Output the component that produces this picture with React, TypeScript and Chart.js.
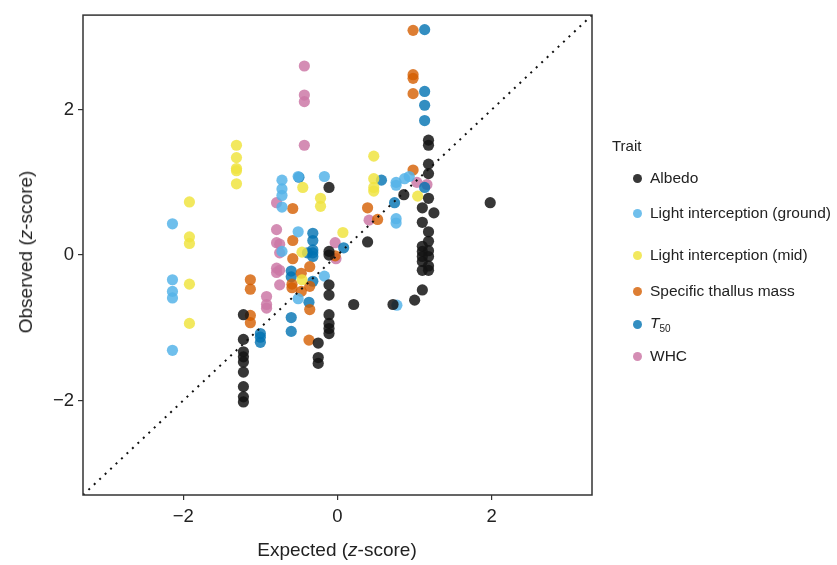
import { useEffect, useRef } from 'react';
import { Chart, registerables } from 'chart.js';
Chart.register(...registerables);

const traitNames = ['Albedo', 'Light interception (ground)', 'Light interception (mid)', 'Specific thallus mass', 'T50', 'WHC'];
const traitColors = ['rgba(20,20,20,0.85)', 'rgba(86,180,233,0.85)', 'rgba(240,228,66,0.85)', 'rgba(213,94,0,0.8)', 'rgba(0,114,178,0.8)', 'rgba(204,121,167,0.85)'];

const albedoX = [-1.22, -1.22, -1.22, -1.22, -1.22, -1.22, -1.22, -1.22, -1.22, -0.25, -0.25, -0.25, -0.11, -0.11, -0.11, -0.11, -0.11, -0.11, -0.11, -0.11, -0.11, 0.21, 0.39, 0.72, 0.86, 1.0, 1.1, 1.1, 1.1, 1.1, 1.1, 1.1, 1.1, 1.1, 1.18, 1.18, 1.18, 1.18, 1.18, 1.18, 1.18, 1.18, 1.18, 1.18, 1.18, 1.25, 1.98];
const albedoY = [-0.82, -1.16, -1.33, -1.4, -1.47, -1.61, -1.81, -1.95, -2.02, -1.21, -1.41, -1.49, 0.93, 0.05, 0.0, -0.41, -0.55, -0.82, -0.94, -1.01, -1.08, -0.68, 0.18, -0.68, 0.83, -0.62, 0.65, 0.45, 0.12, 0.05, -0.02, -0.09, -0.21, -0.48, 1.58, 1.51, 1.25, 1.12, 0.78, 0.32, 0.19, 0.06, -0.02, -0.15, -0.21, 0.58, 0.72];

const groundX = [-2.14, -2.14, -2.14, -2.14, -2.14, -0.72, -0.72, -0.72, -0.72, -0.51, -0.17, -0.51, -0.72, -0.51, -0.17, 0.76, 0.76, 0.87, 0.93, 0.76, 0.76, 0.77];
const groundY = [0.43, -0.34, -0.5, -0.59, -1.31, 1.03, 0.91, 0.82, 0.66, 1.08, 1.08, 0.32, 0.05, -0.6, -0.29, 1.0, 0.96, 1.05, 1.08, 0.5, 0.44, -0.69];

const midX = [-1.31, -1.31, -1.31, -1.31, -1.31, -1.92, -1.92, -1.92, -1.92, -1.92, -0.45, -0.22, -0.22, -0.46, -0.46, 0.07, 0.47, 0.47, 0.47, 0.47, 1.04];
const midY = [1.51, 1.34, 1.19, 1.16, 0.98, 0.73, 0.25, 0.16, -0.4, -0.94, 0.93, 0.78, 0.67, 0.04, -0.34, 0.31, 1.36, 1.05, 0.93, 0.88, 0.81];

const stmX = [0.98, 0.98, 0.98, 0.98, 0.98, 0.39, 0.52, -0.58, -0.58, -0.58, -0.03, -0.36, -1.13, -1.13, -0.47, -0.59, -0.59, -0.36, -0.47, -0.36, -1.13, -1.13, -0.37];
const stmY = [3.09, 2.48, 2.43, 2.22, 1.17, 0.65, 0.49, 0.64, 0.2, -0.05, -0.01, -0.16, -0.34, -0.47, -0.25, -0.4, -0.45, -0.43, -0.5, -0.75, -0.83, -0.93, -1.17];

const t50X = [1.13, 1.13, 1.13, 1.13, 1.13, 0.57, 0.74, 0.08, -0.32, -0.32, -0.32, -0.32, -0.39, -0.32, -0.6, -0.6, -0.32, -0.37, -0.6, -0.6, -1.0, -1.0, -1.0, -0.5];
const t50Y = [3.1, 2.25, 2.06, 1.85, 0.93, 1.03, 0.72, 0.1, 0.3, 0.2, 0.07, 0.03, 0.03, -0.02, -0.22, -0.3, -0.36, -0.65, -0.86, -1.05, -1.08, -1.13, -1.2, 1.07];

const whcX = [-0.43, -0.43, -0.43, -0.43, -0.79, -0.79, -0.79, -0.75, -0.75, -0.03, -0.02, -0.79, -0.75, -0.79, -0.75, -0.92, -0.92, -0.92, 0.41, 1.03, 1.16];
const whcY = [2.6, 2.2, 2.11, 1.51, 0.72, 0.35, 0.17, 0.15, 0.03, 0.17, -0.05, -0.18, -0.21, -0.24, -0.41, -0.57, -0.68, -0.73, 0.48, 1.0, 0.97];

const seriesX = [albedoX, groundX, midX, stmX, t50X, whcX];
const seriesY = [albedoY, groundY, midY, stmY, t50Y, whcY];

const axisRange = [-3.3, 3.3];
const tickValues = [-2, 0, 2];
const refLine = [-3.3, 3.3];

const FONT = '"Liberation Sans", Arial, sans-serif';

export default function App() {
  const ref = useRef<HTMLCanvasElement | null>(null);
  useEffect(() => {
    document.body.style.margin = '0';
    const framePlugin = {
      id: 'frame',
      afterDatasetsDraw(chart: any) {
        const { ctx, chartArea: a } = chart;
        ctx.save();
        ctx.strokeStyle = '#333';
        ctx.lineWidth = 1.5;
        ctx.strokeRect(a.left, a.top, a.right - a.left, a.bottom - a.top);
        ctx.restore();
      },
    };
    const datasets: any[] = [
      {
        type: 'line',
        label: 'identity',
        data: refLine.map((v) => ({ x: v, y: v })),
        borderColor: '#111',
        borderWidth: 2,
        borderDash: [2, 5.5],
        pointRadius: 0,
        fill: false,
        order: 0,
      },
    ];
    seriesX.forEach((xs, i) => {
      datasets.push({
        type: 'scatter',
        label: traitNames[i],
        data: xs.map((x, j) => ({ x, y: seriesY[i][j] })),
        backgroundColor: traitColors[i],
        borderWidth: 0,
        pointRadius: 5.6,
        order: 1 + i,
      });
    });
    const scaleCommon = (isX: boolean) => ({
      type: 'linear',
      min: axisRange[0],
      max: axisRange[1],
      afterBuildTicks: (axis: any) => {
        axis.ticks = tickValues.map((v) => ({ value: v }));
      },
      afterFit: (s: any) => {
        if (isX) s.height = 70;
        else s.width = 83;
      },
      border: { display: false },
      grid: { display: true, drawOnChartArea: false, drawTicks: true, tickLength: 5, color: '#333', lineWidth: 1.2 },
      ticks: {
        color: '#222',
        padding: isX ? 6 : 4,
        font: { size: 18.5, family: FONT },
        callback: (v: number) => (v < 0 ? '\u2212' + Math.abs(v) : String(v)),
      },
    });
    const chart = new Chart(ref.current as HTMLCanvasElement, {
      type: 'scatter',
      data: { datasets },
      options: {
        animation: false,
        responsive: true,
        maintainAspectRatio: false,
        layout: { padding: { left: 0, right: 245, top: 10, bottom: 0 } },
        plugins: { legend: { display: false }, tooltip: { enabled: false } },
        scales: { x: scaleCommon(true) as any, y: scaleCommon(false) as any },
      },
      plugins: [framePlugin],
    });
    return () => chart.destroy();
  }, []);

  const legendY = [178, 213, 255, 291, 324, 356];
  return (
    <div style={{ position: 'relative', width: 837, height: 565, fontFamily: FONT, color: '#222' }}>
      <canvas ref={ref} />
      <div style={{ position: 'absolute', left: 337, top: 550, transform: 'translate(-50%, -50%)', fontSize: 19, whiteSpace: 'nowrap' }}>
        Expected (<i>z</i>-score)
      </div>
      <div style={{ position: 'absolute', left: 26, top: 252, transform: 'translate(-50%, -50%) rotate(-90deg)', fontSize: 19, whiteSpace: 'nowrap' }}>
        Observed (<i>z</i>-score)
      </div>
      <div style={{ position: 'absolute', left: 612, top: 145, transform: 'translateY(-50%)', fontSize: 15 }}>Trait</div>
      {traitNames.map((n, i) => (
        <div key={n} style={{ position: 'absolute', left: 633, top: legendY[i], transform: 'translateY(-50%)', display: 'flex', alignItems: 'center', fontSize: 15.5, whiteSpace: 'nowrap' }}>
          <span style={{ display: 'inline-block', width: 9, height: 9, borderRadius: '50%', background: traitColors[i], marginRight: 8 }} />
          {n === 'T50' ? (
            <span>
              <i>T</i>
              <sub style={{ fontSize: 10 }}>50</sub>
            </span>
          ) : (
            <span>{n}</span>
          )}
        </div>
      ))}
    </div>
  );
}
